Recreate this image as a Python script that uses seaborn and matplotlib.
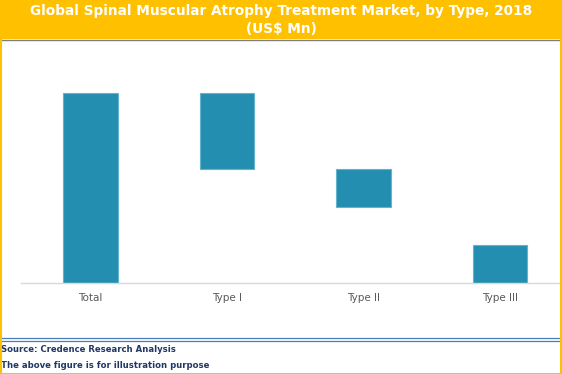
import matplotlib
matplotlib.use("Agg")
import matplotlib.pyplot as plt
from matplotlib.patches import Rectangle
from matplotlib.lines import Line2D
import seaborn as sns
import pandas as pd

# waterfall data (illustrative, US$ Mn)
categories = ["Total", "Type I", "Type II", "Type III"]
start_values = [0, 60, 40, 0]
end_values = [100, 100, 60, 20]

title = "Global Spinal Muscular Atrophy Treatment Market, by Type, 2018\n(US$ Mn)"
source_text = "Source: Credence Research Analysis"
note_text = "The above figure is for illustration purpose"

bar_color = "#238EB0"
edge_color = "#62B3CE"
gold = "#FFC000"
navy = "#1F3864"

sns.set_theme(style="white")
plt.rcParams["font.family"] = ["DejaVu Sans"]

df = pd.DataFrame({
    "category": categories,
    "start": start_values,
    "height": [e - s for s, e in zip(start_values, end_values)],
})

W, H = 562, 374
fig = plt.figure(figsize=(W / 100, H / 100), dpi=100)

# plot area in pixel coords
left, right, bottom_px, top_px = 21, 560, 283, 60
ax = fig.add_axes([left / W, 1 - bottom_px / H, (right - left) / W, (bottom_px - top_px) / H])

sns.barplot(data=df, x="category", y="height", color=bar_color, width=0.4,
            saturation=1, edgecolor=edge_color, linewidth=0.8, ax=ax)
# lift each bar to its starting value
for patch, s in zip(ax.patches, df["start"]):
    patch.set_y(s)

ax.set_xlim(-0.51, 3.44)
ax.set_ylim(0, 100 * (bottom_px - top_px) / 190)
ax.set_xlabel("")
ax.set_ylabel("")
ax.set_yticks([])
ax.tick_params(axis="x", length=0, pad=7.5, labelsize=7.5, labelcolor="#595959")
for side in ["top", "left", "right"]:
    ax.spines[side].set_visible(False)
ax.spines["bottom"].set_color("#D9D9D9")
ax.spines["bottom"].set_linewidth(1)

# title bar
fig.patches.append(Rectangle((0, 1 - 39 / H), 1, 39 / H, transform=fig.transFigure,
                             facecolor=gold, edgecolor="none", zorder=0))
fig.lines.append(Line2D([0, 1], [1 - 39.5 / H] * 2, transform=fig.transFigure,
                        color="#7F7F7F", lw=1))
fig.text(0.5, 1 - 20 / H, title, ha="center", va="center", color="white",
         fontsize=9.8, fontweight="bold", linespacing=1.3)

# footer double line
for yp in [338, 340.5]:
    fig.lines.append(Line2D([0, 1], [1 - yp / H] * 2, transform=fig.transFigure,
                            color="#4A7EBB", lw=0.9))
fig.text(1 / W, 1 - 349 / H, source_text, ha="left", va="center", color=navy,
         fontsize=6.1, fontweight="bold")
fig.text(1 / W, 1 - 366 / H, note_text, ha="left", va="center", color=navy,
         fontsize=6.1, fontweight="bold")

# outer frame
fig.patches.append(Rectangle((0.5 / W, 0.5 / H), 1 - 1.5 / W, 1 - 1.5 / H,
                             transform=fig.transFigure, facecolor="none",
                             edgecolor=gold, lw=1.5, zorder=5))

fig.savefig("out.png", dpi=100)
